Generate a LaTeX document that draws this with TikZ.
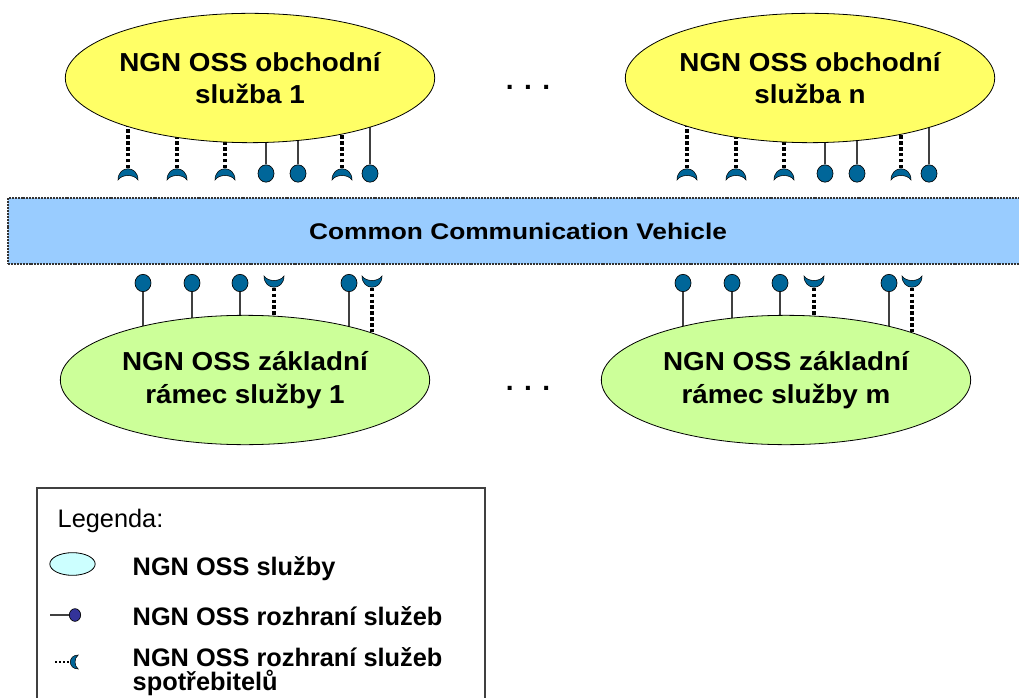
\documentclass[tikz,border=0pt]{standalone}
\usepackage{fontspec}
\setmainfont{Liberation Sans}
\newfontfamily\svcfont[FakeStretch=1.07]{Liberation Sans}
\newfontfamily\ccvfont[FakeStretch=1.16]{Liberation Sans}
\usetikzlibrary{shapes.geometric,backgrounds}

\definecolor{obchyellow}{HTML}{FFFF66}
\definecolor{zaklgreen}{HTML}{CCFF99}
\definecolor{ccvblue}{HTML}{99CCFF}
\definecolor{ifblue}{HTML}{006699}
\definecolor{legblue}{HTML}{333399}
\definecolor{legcyan}{HTML}{CCFFFF}

\tikzset{
  svc/.style={draw, ellipse, line width=0.6pt, inner sep=0pt,
    minimum width=277pt, minimum height=97pt, align=center,
    font=\svcfont\fontsize{19.5}{24.5}\selectfont\bfseries},
  ball/.style={draw, ellipse, fill=ifblue, line width=0.5pt, inner sep=0pt,
    minimum width=12pt, minimum height=13pt},
  prov/.style={draw=black!75, line width=1.1pt},
  cons/.style={black, line width=2.4pt, dash pattern=on 2.6pt off 1.8pt},
  ccv/.style={draw=black!80, fill=ccvblue, line width=0.8pt,
    dash pattern=on 1.5pt off 0.7pt, inner sep=0pt,
    minimum width=765pt, minimum height=49.5pt,
    font=\ccvfont\fontsize{17}{20}\selectfont\bfseries},
  legtext/.style={anchor=base west, align=left,
    font=\fontsize{19}{18}\selectfont\bfseries},
  sockdn/.pic={
    \filldraw[fill=ifblue, draw=black, line width=0.4pt]
      (-10,6) .. controls (-10,-9) and (10,-9) .. (10,6)
      .. controls (6,0) and (-6,0) .. cycle;
  },
}

\begin{document}
\begin{tikzpicture}[x=0.75pt, y=-0.75pt]
  \useasboundingbox (0,0) rectangle (1019,698);

  % services
  \node[svc, fill=obchyellow] (obch1) at (250,78) {NGN OSS obchodní\\služba 1};
  \node[svc, fill=obchyellow] (obch2) at (810,78) {NGN OSS obchodní\\služba n};
  \node[svc, fill=zaklgreen] (zakl1) at (245,380) {NGN OSS základní\\rámec služby 1};
  \node[svc, fill=zaklgreen] (zakl2) at (786,380) {NGN OSS základní\\rámec služby m};

  \node[anchor=base, font=\fontsize{21}{24}\selectfont\bfseries] (dotsT) at (528,90) {. . .};
  \node[anchor=base, font=\fontsize{21}{24}\selectfont\bfseries] (dotsB) at (528,390) {. . .};

  % communication vehicle
  \node[ccv] (ccv) at (518,231) {Common Communication Vehicle};

  % interfaces
  \foreach \g/\dt/\db in {1/0/0, 2/559/540} {
    \foreach \x [count=\i] in {128,177,225,342} {
      \coordinate (ts\g-\i) at (\x+\dt,174);
      \pic at (ts\g-\i) {sockdn};
    }
    \foreach \x [count=\i] in {266,298,370}
      \node[ball] (tb\g-\i) at (\x+\dt,173.5) {};
    \foreach \x [count=\i] in {143,192,240,349}
      \node[ball] (bb\g-\i) at (\x+\db,283) {};
    \foreach \x [count=\i] in {274,372} {
      \coordinate (bs\g-\i) at (\x+\db,282);
      \pic[rotate=180] at (bs\g-\i) {sockdn};
    }
  }

  \begin{scope}[on background layer]
    \foreach \g in {1,2} {
      \foreach \i in {1,...,4}
        \draw[cons] (ts\g-\i) -- (ts\g-\i |- obch\g.center);
      \foreach \i in {1,2,3}
        \draw[prov] (tb\g-\i) -- (tb\g-\i |- obch\g.center);
      \foreach \i in {1,...,4}
        \draw[prov] (bb\g-\i) -- (bb\g-\i |- zakl\g.center);
      \foreach \i in {1,2}
        \draw[cons] (bs\g-\i) -- (bs\g-\i |- zakl\g.center);
    }
  \end{scope}

  % legend
  \draw[draw=black!75, line width=0.8pt] (37,488) rectangle (485,720);
  \node[anchor=base west, font=\fontsize{19}{20}\selectfont] (leghead) at (53,527) {Legenda:};

  \node[draw, ellipse, fill=legcyan, line width=0.6pt, inner sep=0pt,
    minimum width=34pt, minimum height=17pt] (legsvc) at (72.5,564) {};
  \node[legtext] (legsvctext) at (128,575) {NGN OSS služby};

  \coordinate (legprovend) at (50,615);
  \node[ball, fill=legblue, minimum width=8.5pt, minimum height=9.5pt] (legprov) at (75,615) {};
  \draw[prov] (legprovend) -- (legprov);
  \node[legtext] (legprovtext) at (128,625) {NGN OSS rozhraní služeb};

  \coordinate (legconsend) at (55,662);
  \coordinate (legcons) at (74,662);
  \draw[black, line width=0.9pt, dash pattern=on 1.8pt off 1.2pt] (legconsend) -- (legcons);
  \pic[rotate=90, scale=0.7] at (legcons) {sockdn};
  \node[legtext] (legconstext) at (128,690) {NGN OSS rozhraní služeb\\spotřebitelů};
\end{tikzpicture}
\end{document}
